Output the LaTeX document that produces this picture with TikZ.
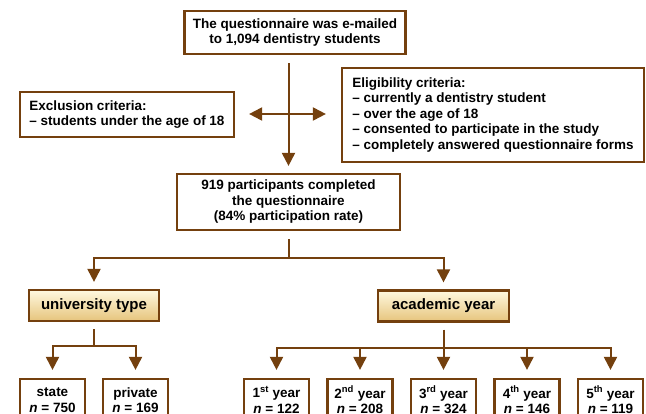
\documentclass[tikz,border=0pt]{standalone}
\usepackage{fontspec}
\setmainfont{Liberation Sans}
\usepackage{tikz}
\usetikzlibrary{positioning,arrows.meta,calc}
\definecolor{frame}{RGB}{116,64,14}
\definecolor{creamtop}{RGB}{255,249,224}
\definecolor{tanbottom}{RGB}{230,196,124}

\begin{document}
\begin{tikzpicture}[
    x=1pt,y=-1pt,
    font=\fontsize{13.5}{15.5}\selectfont\bfseries,
    box/.style={draw=frame,line width=2.2pt,fill=white,inner xsep=8pt,inner ysep=4pt},
    cbox/.style={box,align=center},
    lbox/.style={box,align=left},
    hbox/.style={box,top color=creamtop,bottom color=tanbottom,minimum height=31pt,font=\fontsize{15}{17}\selectfont\bfseries},
    leaf/.style={box,align=center,minimum width=65pt,minimum height=42pt,inner xsep=2pt},
    link/.style={draw=frame,line width=2pt},
    tip/.style={Triangle[length=13pt,width=13pt]},
    arrow/.style={link,-{Triangle[length=13pt,width=13pt]}}
  ]
    \useasboundingbox (0,0) rectangle (646,414);
    \clip (0,0) rectangle (646,414);

    % top of the chart
    \node[cbox,minimum width=221pt,minimum height=43pt] (mail) at (295,32.5)
      {The questionnaire was e-mailed\\to 1,094 dentistry students};
    \node[lbox,minimum width=214pt,minimum height=45pt] (excl) at (127,114.5)
      {Exclusion criteria:\\-- students under the age of 18};
    \node[lbox,minimum width=302pt,minimum height=94pt] (elig) at (493,115)
      {Eligibility criteria:\\-- currently a dentistry student\\-- over the age of 18\\-- consented to participate in the study\\-- completely answered questionnaire forms};
    \node[cbox,minimum width=223pt,minimum height=56pt] (part) at (288.5,202)
      {919 participants completed\\the questionnaire\\(84\% participation rate)};

    % groups
    \node[hbox,minimum width=130pt] (univ) at (94,305.5) {university type};
    \node[hbox,minimum width=131pt] (acad) at (443.5,306) {academic year};

    \node[leaf] (state) at (52.5,400) {state\\\textit{n} = 750};
    \node[leaf] (private) at (135.5,400) {private\\\textit{n} = 169};

    \node[leaf] (y1) at (276.5,400) {1\textsuperscript{st} year\\\textit{n} = 122};
    \node[leaf] (y2) at (360,400) {2\textsuperscript{nd} year\\\textit{n} = 208};
    \node[leaf] (y3) at (443.5,400) {3\textsuperscript{rd} year\\\textit{n} = 324};
    \node[leaf] (y4) at (527,400) {4\textsuperscript{th} year\\\textit{n} = 146};
    \node[leaf] (y5) at (610.5,400) {5\textsuperscript{th} year\\\textit{n} = 119};

    % connectors
    \coordinate (cross) at (288.5,114);
    \coordinate (split) at (288.5,258);
    \coordinate (usplit) at (94,346);
    \coordinate (asplit) at (443.5,348);

    \draw[arrow,shorten <=8pt,shorten >=7pt] (mail.south -| part.north) -- (part.north);
    \draw[link,{Triangle[length=13pt,width=13pt]}-{Triangle[length=13pt,width=13pt]},shorten <=14pt,shorten >=15pt]
      (excl.east |- cross) -- (elig.west |- cross);

    \draw[link,shorten <=8pt] (part.south) -- (split);
    \draw[arrow,shorten >=7pt] (split) -| (univ.north);
    \draw[arrow,shorten >=7pt] (split) -| (acad.north);

    \draw[link,shorten <=7pt] (univ.south) -- (usplit);
    \foreach \n in {state,private}
      \draw[arrow,shorten >=8pt] (usplit) -| (\n.north);

    \draw[link,shorten <=7pt] (acad.south) -- (asplit);
    \foreach \n in {y1,y2,y3,y4,y5}
      \draw[arrow,shorten >=8pt] (asplit) -| (\n.north);
  \end{tikzpicture}
\end{document}
